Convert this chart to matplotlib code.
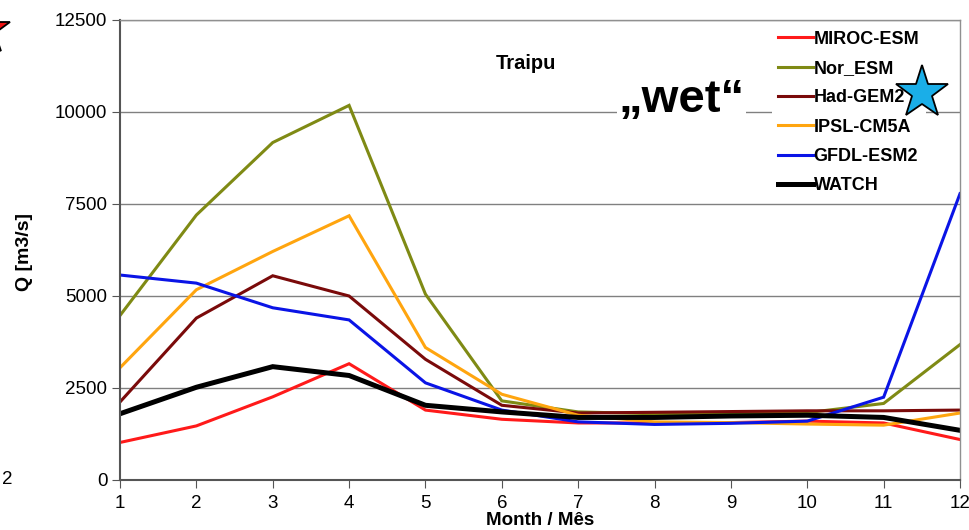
import matplotlib
matplotlib.use("Agg")
from matplotlib import pyplot as plt
import numpy as np

plt.rcParams['font.family'] = ['Liberation Sans', 'DejaVu Sans']

months = list(range(1, 13))
miroc = [1020, 1470, 2260, 3160, 1900, 1650, 1550, 1550, 1560, 1600, 1550, 1100]
nor = [4470, 7200, 9170, 10180, 5050, 2150, 1850, 1800, 1820, 1830, 2080, 3680]
had = [2120, 4400, 5550, 5000, 3280, 2030, 1820, 1840, 1860, 1880, 1880, 1900]
ipsl = [3050, 5170, 6210, 7180, 3600, 2330, 1760, 1580, 1560, 1520, 1490, 1820]
gfdl = [5570, 5350, 4680, 4350, 2640, 1900, 1580, 1510, 1540, 1600, 2250, 7780]
watch = [1800, 2520, 3080, 2840, 2030, 1850, 1700, 1700, 1740, 1760, 1700, 1350]

names = ["MIROC-ESM", "Nor_ESM", "Had-GEM2", "IPSL-CM5A", "GFDL-ESM2", "WATCH"]
series = [miroc, nor, had, ipsl, gfdl, watch]
colors = ["#ff1a1a", "#7f8a14", "#7a0a0a", "#ffa50f", "#0a14e6", "#000000"]
widths = [2.2, 2.2, 2.2, 2.2, 2.2, 3.6]

fig = plt.figure(figsize=(9.7, 5.3), dpi=100)
ax = fig.add_axes([120 / 970, 50 / 530, 840 / 970, 460 / 530])

for y, name, c, w in zip(series, names, colors, widths):
    ax.plot(months, y, color=c, lw=w, label=name, solid_joinstyle='miter')

ax.set_xlim(1, 12)
ax.set_ylim(0, 12500)
ax.set_xticks(months)
ax.set_yticks(np.arange(0, 12501, 2500))
ax.yaxis.grid(True, color="#808080", lw=1.0)
ax.set_axisbelow(True)
ax.tick_params(labelsize=13.5, length=6, color="#555555", pad=3)
ax.tick_params(axis="x", pad=5)
for s in ["left", "bottom"]:
    ax.spines[s].set_color("#555555")
    ax.spines[s].set_linewidth(1.5)
for s in ["top", "right"]:
    ax.spines[s].set_color("#909090")
    ax.spines[s].set_linewidth(1.0)

ax.set_xlabel("Month / Mês", fontsize=13.5, fontweight="bold")
ax.xaxis.set_label_coords(0.5, -0.069)
ax.set_ylabel("Q [m3/s]", fontsize=14, fontweight="bold")
ax.yaxis.set_label_coords(-0.104, 0.496)

leg = ax.legend(loc="upper right", bbox_to_anchor=(0.97, 1.01), frameon=True,
                framealpha=1, facecolor="white", edgecolor="none",
                prop={"weight": "bold", "size": 13}, handlelength=1.9,
                handletextpad=0.05, labelspacing=0.68, borderpad=0.35)

ax.text(0.483, 0.905, "Traipu", transform=ax.transAxes, fontsize=14.5,
        fontweight="bold", ha="center", va="center")
ax.text(0.668, 0.826, "\u201ewet\u201c", transform=ax.transAxes, fontsize=34,
        fontweight="bold", ha="center", va="center",
        bbox=dict(facecolor="white", edgecolor="none", pad=1))

# decorations cut from the neighbouring panels
ax.plot([922 / 970], [1 - 93 / 530], marker="*", markersize=40,
        markerfacecolor="#1aaee8", markeredgecolor="black", markeredgewidth=1.3,
        transform=fig.transFigure, clip_on=False, zorder=10)
ax.plot([-15 / 970], [1 - 30 / 530], marker="*", markersize=38,
        markerfacecolor="#ee1111", markeredgecolor="black", markeredgewidth=1.3,
        transform=fig.transFigure, clip_on=False, zorder=10)
fig.text(2 / 970, 1 - 479 / 530, "2", fontsize=13.5, va="center", ha="left")

fig.savefig("out.png", dpi=100)
